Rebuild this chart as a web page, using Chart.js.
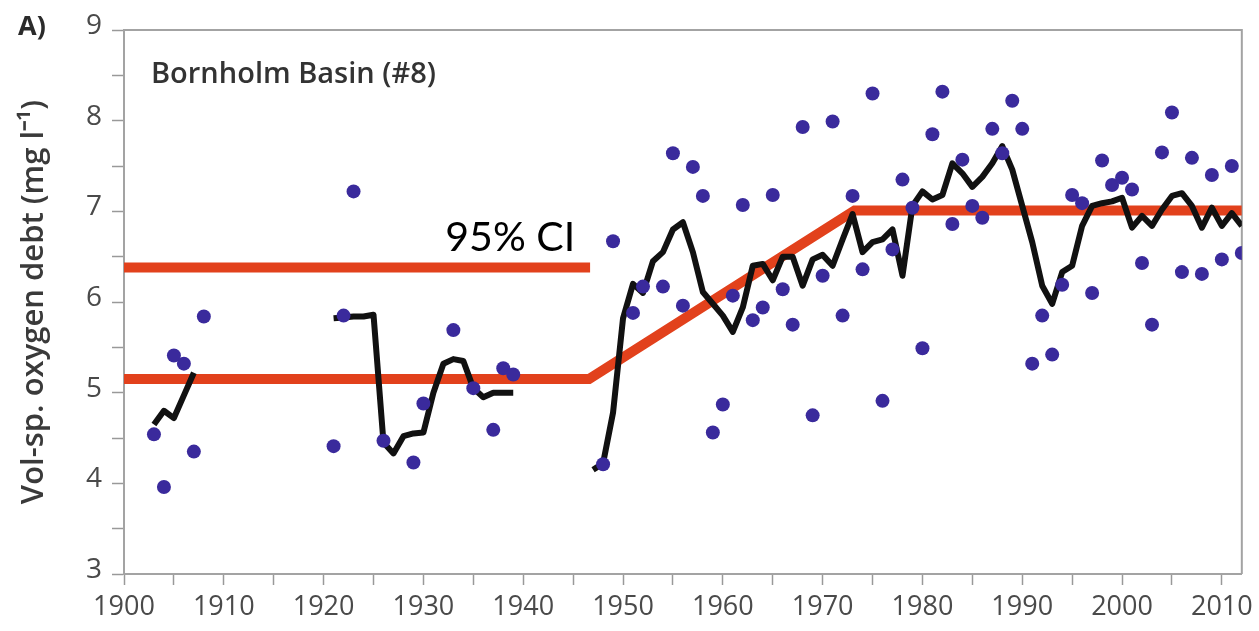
<!DOCTYPE html>
<html><head><meta charset="utf-8">
<script src="https://cdn.jsdelivr.net/npm/chart.js@4.4.1/dist/chart.umd.min.js"></script>
<style>html,body{margin:0;padding:0;background:#fff;overflow:hidden}</style>
</head><body>
<canvas id="c" width="1259" height="631"></canvas>
<script>
// ---- data ----
const dotYears = [1903,1904,1905,1906,1907,1908,1921,1922,1923,1926,1929,1930,1933,1935,1937,1938,1939,
  1948,1949,1951,1952,1954,1955,1956,1957,1958,1959,1960,1961,1962,1963,1964,1965,1966,1967,1968,1969,1970,
  1971,1972,1973,1974,1975,1976,1977,1978,1979,1980,1981,1982,1983,1984,1985,1986,1987,1988,1989,1990,
  1991,1992,1993,1994,1995,1996,1997,1998,1999,2000,2001,2002,2003,2004,2005,2006,2007,2008,2009,2010,2011,2012];
const dotValues = [4.54,3.96,5.41,5.32,4.35,5.84,4.41,5.85,7.22,4.47,4.23,4.88,5.69,5.05,4.59,5.27,5.20,
  4.21,6.67,5.88,6.17,6.17,7.64,5.96,7.49,7.17,4.56,4.87,6.07,7.07,5.80,5.94,7.18,6.14,5.75,7.93,4.75,6.29,
  7.99,5.85,7.17,6.36,8.30,4.91,6.58,7.35,7.04,5.49,7.85,8.32,6.86,7.57,7.06,6.93,7.91,7.64,8.22,7.91,
  5.32,5.85,5.42,6.19,7.18,7.09,6.10,7.56,7.29,7.37,7.24,6.43,5.75,7.65,8.09,6.33,7.59,6.31,7.40,6.47,7.50,6.54];

const lineYears = [1903,1904,1905,1906,1907,1908,
  1921,1922,1923,1924,1925,1926,1927,1928,1929,1930,1931,1932,1933,1934,1935,1936,1937,1938,1939,1940,
  1947,1948,1949,1950,1951,1952,1953,1954,1955,1956,1957,1958,1959,1960,1961,1962,1963,1964,1965,1966,
  1967,1968,1969,1970,1971,1972,1973,1974,1975,1976,1977,1978,1979,1980,1981,1982,1983,1984,1985,1986,
  1987,1988,1989,1990,1991,1992,1993,1994,1995,1996,1997,1998,1999,2000,2001,2002,2003,2004,2005,2006,
  2007,2008,2009,2010,2011,2012];
const lineValues = [4.65,4.80,4.72,4.97,5.22,null,
  5.82,5.83,5.84,5.84,5.86,4.45,4.33,4.52,4.55,4.56,5.00,5.32,5.37,5.35,5.05,4.95,5.00,5.00,5.00,null,
  4.15,4.22,4.78,5.82,6.20,6.10,6.45,6.55,6.80,6.88,6.55,6.11,5.98,5.85,5.67,5.94,6.40,6.42,6.24,6.50,
  6.50,6.18,6.47,6.52,6.40,6.69,6.97,6.55,6.66,6.69,6.80,6.29,7.06,7.22,7.13,7.18,7.53,7.42,7.27,7.38,
  7.53,7.72,7.46,7.06,6.66,6.18,5.98,6.33,6.40,6.84,7.06,7.09,7.11,7.15,6.82,6.95,6.84,7.02,7.17,7.20,
  7.06,6.82,7.04,6.84,6.98,6.84];

const ciUpperYears = [1900, 1946.7];
const ciUpperValues = [6.38, 6.38];
const ciLowerYears = [1900, 1946.6, 1973.2, 2012];
const ciLowerValues = [5.15, 5.15, 7.01, 7.01];

const xTickValues = [1900,1905,1910,1915,1920,1925,1930,1935,1940,1945,1950,1955,1960,1965,1970,1975,1980,1985,1990,1995,2000,2005,2010];
const xLabelYears = [1900,1910,1920,1930,1940,1950,1960,1970,1980,1990,2000,2010];
const yTickValues = [3,3.5,4,4.5,5,5.5,6,6.5,7,7.5,8,8.5,9];
const yLabelValues = [3,4,5,6,7,8,9];

const panelLabel = 'A)';
const basinTitle = 'Bornholm Basin (#8)';
const ciLabel = '95% CI';
const yTitle = 'Vol-sp. oxygen debt (mg l\u207B\u00B9)';

// ---- build ----
const pts = (xs, ys) => xs.map((x, i) => ({x: x, y: ys[i]}));

const frameAndText = {
  id: 'frameAndText',
  beforeDatasetsDraw(chart) {
    const {ctx, chartArea: a} = chart;
    ctx.save();
    ctx.strokeStyle = '#a3a3a3';
    ctx.lineWidth = 2;
    ctx.beginPath();
    ctx.moveTo(a.left, a.top);
    ctx.lineTo(a.right, a.top);
    ctx.lineTo(a.right, a.bottom);
    ctx.stroke();
    ctx.restore();
  },
  afterDraw(chart) {
    const {ctx, scales: {x, y}} = chart;
    ctx.save();
    ctx.textBaseline = 'alphabetic';
    ctx.fillStyle = '#2b2b2b';
    ctx.font = '700 27px "Open Sans"';
    ctx.textAlign = 'left';
    ctx.fillText(panelLabel, 18, 35);
    ctx.fillStyle = '#333';
    ctx.font = '600 29px "Open Sans"';
    ctx.fillText(basinTitle, 151, 83);
    ctx.fillStyle = '#000';
    ctx.font = '400 41px Lato';
    ctx.textAlign = 'right';
    ctx.fillText(ciLabel, x.getPixelForValue(1945.2), y.getPixelForValue(6.38) - 17);
    ctx.restore();
  }
};

new Chart(document.getElementById('c'), {
  type: 'scatter',
  data: {
    datasets: [
      {label: 'obs', data: pts(dotYears, dotValues), backgroundColor: '#3a2a9c', borderWidth: 0,
        pointRadius: 7, pointHoverRadius: 7, showLine: false},
      {label: 'mean', data: pts(lineYears, lineValues), showLine: true, spanGaps: false,
        borderColor: '#111', borderWidth: 6, pointRadius: 0, borderJoinStyle: 'round', tension: 0},
      {label: 'ciUpper', data: pts(ciUpperYears, ciUpperValues), showLine: true,
        borderColor: '#e2411c', borderWidth: 10, pointRadius: 0, borderCapStyle: 'butt'},
      {label: 'ciLower', data: pts(ciLowerYears, ciLowerValues), showLine: true,
        borderColor: '#e2411c', borderWidth: 10, pointRadius: 0, borderCapStyle: 'butt', borderJoinStyle: 'miter'}
    ]
  },
  options: {
    responsive: false,
    animation: false,
    events: [],
    layout: {padding: {top: 30, right: 15, left: 0, bottom: 0}},
    plugins: {legend: {display: false}, tooltip: {enabled: false}, title: {display: false}},
    scales: {
      x: {
        type: 'linear', min: 1900, max: 2012,
        afterBuildTicks: s => { s.ticks = xTickValues.map(v => ({value: v})); },
        afterFit: s => { s.height = 57; },
        ticks: {autoSkip: false, maxRotation: 0, padding: 6, color: '#4a4a4a',
          font: {family: '"Open Sans"', size: 27},
          callback: v => xLabelYears.includes(v) ? String(v) : ''},
        grid: {drawOnChartArea: false, drawTicks: true, tickLength: 11, tickColor: '#999', tickWidth: 1.5},
        border: {display: true, color: '#a3a3a3', width: 2}
      },
      y: {
        type: 'linear', min: 3, max: 9,
        afterBuildTicks: s => { s.ticks = yTickValues.map(v => ({value: v})); },
        afterFit: s => { s.width = 124; },
        ticks: {autoSkip: false, padding: 10, color: '#4a4a4a', labelOffset: -4,
          font: {family: '"Open Sans"', size: 28},
          callback: v => yLabelValues.includes(v) ? String(v) : ''},
        grid: {drawOnChartArea: false, drawTicks: true, tickLength: 12, tickColor: '#999', tickWidth: 1.5},
        border: {display: true, color: '#a3a3a3', width: 2},
        title: {display: true, text: yTitle, color: '#3a3a3a', padding: {top: 16, bottom: 0},
          font: {family: '"Open Sans"', size: 31, weight: '600'}}
      }
    }
  },
  plugins: [frameAndText]
});
</script>
</body></html>
